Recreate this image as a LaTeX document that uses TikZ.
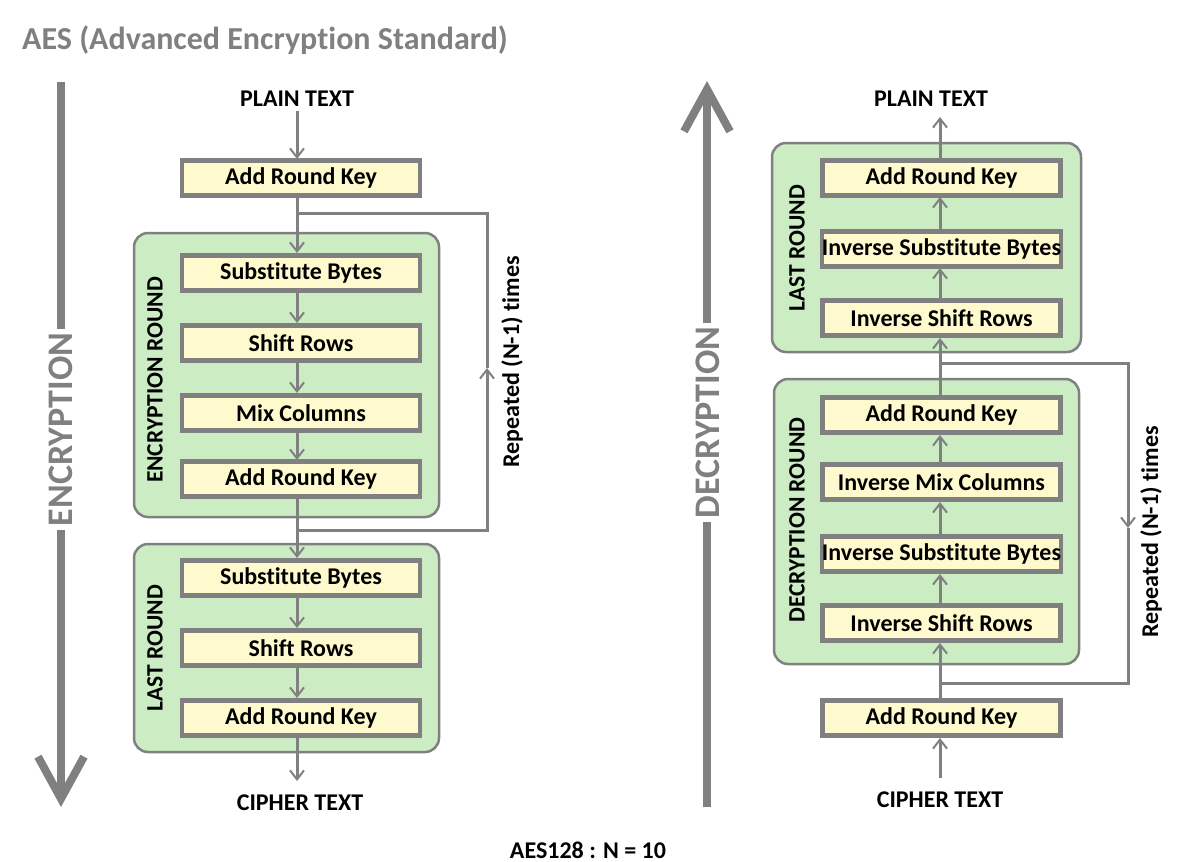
\documentclass[tikz,border=0pt]{standalone}
\usepackage{fontspec}
\setmainfont[Ligatures={NoCommon}]{Carlito}
\usetikzlibrary{arrows.meta,positioning,calc}
\definecolor{lc}{RGB}{128,128,128}
\definecolor{yfill}{RGB}{255,250,205}
\definecolor{gfill}{RGB}{204,236,196}
\tikzset{
  stepbox/.style={draw=lc, line width=4.5pt, fill=yfill, minimum width=238pt, minimum height=35pt, inner sep=0pt, font=\bfseries\fontsize{24}{26}\selectfont},
  roundbox/.style={draw=lc, line width=2.5pt, fill=gfill, rounded corners=14pt, inner sep=0pt},
  conn/.style={draw=lc, line width=3pt, -{Straight Barb[length=9pt,width=14pt,line width=2pt]}},
  plain/.style={draw=lc, line width=3pt},
  lbl/.style={font=\bfseries\fontsize{24}{26}\selectfont, inner sep=0pt},
  rlbl/.style={font=\bfseries\fontsize{23.5}{26}\selectfont, rotate=90, inner sep=0pt},
  big/.style={draw=lc, line width=8pt, -{Straight Barb[length=42pt,width=46pt]}},
  bigtxt/.style={font=\bfseries\fontsize{36}{40}\selectfont, text=lc, rotate=90, fill=white, inner sep=4pt}
}
\begin{document}
\begin{tikzpicture}[x=1pt,y=-1pt]
\useasboundingbox (0,0) rectangle (1200,862);
% title
\node[anchor=west, font=\bfseries\fontsize{32}{36}\selectfont, text=lc, inner sep=0pt] (title) at (22,40) {AES (Advanced Encryption Standard)};
\node[lbl] (nval) at (588,850) {AES128 : N = 10};

% ===== Encryption (left) =====
\coordinate (encA) at (61,82);
\coordinate (encB) at (61,807);
\draw[big] (encA) -- (encB);
\node[bigtxt] (enctxt) at (61,429.5) {ENCRYPTION};

\node[lbl] (ptL) at (297,99) {PLAIN TEXT};
\node[stepbox] (arkL0) at (301,178) {Add Round Key};

\node[roundbox, minimum width=305pt, minimum height=284pt] (encR) at (286.5,375) {};
\node[rlbl] (encRl) at (155,380) {ENCRYPTION ROUND};
\node[stepbox] (sbL1) at (301,273) {Substitute Bytes};
\node[stepbox] (srL1) at (301,343) {Shift Rows};
\node[stepbox] (mcL1) at (301,413) {Mix Columns};
\node[stepbox] (arkL1) at (301,479) {Add Round Key};

\node[roundbox, minimum width=305pt, minimum height=208pt] (lastL) at (286.5,648) {};
\node[rlbl] (lastLl) at (155,648) {LAST ROUND};
\node[stepbox] (sbL2) at (301,578) {Substitute Bytes};
\node[stepbox] (srL2) at (301,648) {Shift Rows};
\node[stepbox] (arkL2) at (301,718) {Add Round Key};

\node[lbl] (ctL) at (300,803) {CIPHER TEXT};
\coordinate (ctLtop) at (297,781);

\draw[conn] (ptL.south -| 297,0) ++(0,4) -- (297,159);
\draw[conn] (297,197) -- (297,253);
\draw[conn] (297,293) -- (297,323);
\draw[conn] (297,363) -- (297,393);
\draw[conn] (297,433) -- (297,460);
\draw[conn] (297,498) -- (297,558);
\draw[conn] (297,598) -- (297,628);
\draw[conn] (297,668) -- (297,698);
\draw[conn] (297,738) -- (ctLtop);

% loop left
\coordinate (lpA) at (297,213);
\coordinate (lpB) at (487,213);
\coordinate (lpC) at (487,530);
\coordinate (lpD) at (297,530);
\coordinate (lpM) at (487,368);
\draw[plain] (lpA) -- (lpB) -- (lpM);
\draw[conn] (lpD) -- (lpC) -- (lpM);
\node[lbl, rotate=90] (repL) at (512,362) {Repeated (N-1) times};

% ===== Decryption (right) =====
\coordinate (decA) at (707,807);
\coordinate (decB) at (707,81);
\draw[big] (decA) -- (decB);
\node[bigtxt] (dectxt) at (708,422.5) {DECRYPTION};

\node[lbl] (ptR) at (931,99) {PLAIN TEXT};

\node[roundbox, minimum width=309pt, minimum height=209pt] (lastR) at (926.5,247.5) {};
\node[rlbl] (lastRl) at (797,248) {LAST ROUND};
\node[stepbox] (arkR2) at (941.5,178) {Add Round Key};
\node[stepbox] (isbR2) at (941.5,249) {Inverse Substitute Bytes};
\node[stepbox] (isrR2) at (941.5,318) {Inverse Shift Rows};

\node[roundbox, minimum width=305pt, minimum height=285pt] (decR) at (926.5,521.5) {};
\node[rlbl] (decRl) at (797,520) {DECRYPTION ROUND};
\node[stepbox] (arkR1) at (941.5,415) {Add Round Key};
\node[stepbox] (imcR1) at (941.5,482) {Inverse Mix Columns};
\node[stepbox] (isbR1) at (941.5,554) {Inverse Substitute Bytes};
\node[stepbox] (isrR1) at (941.5,623) {Inverse Shift Rows};

\node[stepbox] (arkR0) at (941.5,718) {Add Round Key};
\node[lbl] (ctR) at (940,800) {CIPHER TEXT};
\coordinate (ctRtop) at (940,778);
\coordinate (ptRbot) at (940,117);

\draw[conn] (ctRtop) -- (940,738);
\draw[conn] (940,698) -- (940,643);
\draw[conn] (940,603) -- (940,574);
\draw[conn] (940,534) -- (940,502);
\draw[conn] (940,462) -- (940,435);
\draw[conn] (940,395) -- (940,338);
\draw[conn] (940,298) -- (940,268);
\draw[conn] (940,230) -- (940,197);
\draw[conn] (940,159) -- (ptRbot);

% loop right
\coordinate (rpA) at (940,363);
\coordinate (rpB) at (1128,363);
\coordinate (rpC) at (1128,683);
\coordinate (rpD) at (940,683);
\coordinate (rpM) at (1128,528);
\draw[plain] (rpD) -- (rpC) -- (rpM);
\draw[conn] (rpA) -- (rpB) -- (rpM);
\node[lbl, rotate=90] (repR) at (1151,532) {Repeated (N-1) times};
\end{tikzpicture}
\end{document}
